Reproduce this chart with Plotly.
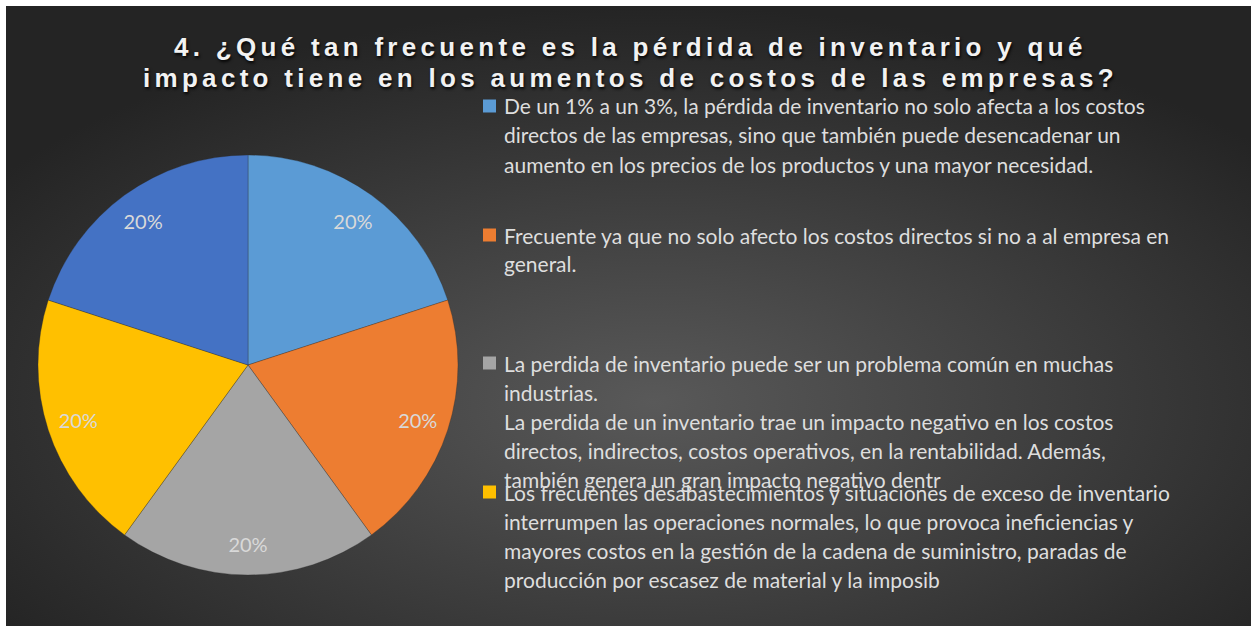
import base64
import plotly.graph_objects as go

# ---------------- data ----------------
title_lines = [
    "4. ¿Qué tan frecuente es la pérdida de inventario y qué",
    "impacto tiene en los aumentos de costos de las empresas?",
]
labels = [
    "De un 1% a un 3%, la pérdida de inventario no solo afecta a los costos<br>"
    "directos de las empresas, sino que también puede desencadenar un<br>"
    "aumento en los precios de los productos y una mayor necesidad.",
    "Frecuente ya que no solo afecto los costos directos si no a al empresa en<br>"
    "general.",
    "La perdida de inventario puede ser un problema común en muchas<br>"
    "industrias.<br>"
    "La perdida de un inventario trae un impacto negativo en los costos<br>"
    "directos, indirectos, costos operativos, en la rentabilidad. Además,<br>"
    "también genera un gran impacto negativo dentr",
    "Los frecuentes desabastecimientos y situaciones de exceso de inventario<br>"
    "interrumpen las operaciones normales, lo que provoca ineficiencias y<br>"
    "mayores costos en la gestión de la cadena de suministro, paradas de<br>"
    "producción por escasez de material y la imposib",
    "Otra respuesta",
]
values = [1, 1, 1, 1, 1]
colors = ["#5B9BD5", "#ED7D31", "#A5A5A5", "#FFC000", "#4472C4"]
legend_shown = 4  # only the first four legend entries are visible

# ---------------- layout helpers ----------------
W, H = 1251, 626


def px_x(x):
    return x / W


def px_y(y):
    return 1 - y / H


svg = f"""<svg xmlns='http://www.w3.org/2000/svg' width='{W-6}' height='{H-6}' preserveAspectRatio='none'>
<defs><radialGradient id='g' cx='52%' cy='64%' r='64%'>
<stop offset='0' stop-color='#595959'/><stop offset='1' stop-color='#242424'/>
</radialGradient></defs>
<rect width='100%' height='100%' fill='url(#g)'/></svg>"""
bg_src = "data:image/svg+xml;base64," + base64.b64encode(svg.encode()).decode()

cx, cy, r = 248, 365, 210
pie_domain = dict(x=[px_x(cx - r), px_x(cx + r)], y=[px_y(cy + r), px_y(cy - r)])

fig = go.Figure()
# filled pie (no text)
fig.add_trace(go.Pie(
    labels=labels, values=values, sort=False, direction="clockwise", rotation=0,
    marker=dict(colors=colors, line=dict(color="rgba(40,40,40,0.5)", width=0.6)),
    textinfo="none", hoverinfo="label+percent",
    domain=pie_domain, showlegend=False,
))
# transparent ring carrying the percentage labels near the rim
fig.add_trace(go.Pie(
    labels=labels, values=values, sort=False, direction="clockwise", rotation=0,
    hole=0.7,
    marker=dict(colors=["rgba(0,0,0,0)"] * len(values), line=dict(width=0)),
    texttemplate="%{percent:.0%}", textposition="inside",
    insidetextorientation="horizontal",
    textfont=dict(family="Lato", size=20, color="#d9d9d9"),
    hoverinfo="skip", domain=pie_domain, showlegend=False,
))

annotations = []
# title
title_y = [47, 78]
for line, ty in zip(title_lines, title_y):
    annotations.append(dict(
        text=f"<span style='letter-spacing:4.3px'>{line}</span>",
        x=px_x(630), y=px_y(ty), xref="paper", yref="paper",
        xanchor="center", yanchor="middle", showarrow=False,
        font=dict(family="Liberation Sans", size=26, color="#f2f2f2", weight="bold",
                  shadow="1px 2px 3px rgba(0,0,0,0.9)"),
    ))

# legend (custom, overlapping like the reference)
entry_top = [106, 235, 363, 492]
line_gap = 29
shapes = []
for i in range(legend_shown):
    for j, line in enumerate(labels[i].split("<br>")):
        annotations.append(dict(
            text=line, x=px_x(502), y=px_y(entry_top[i] + j * line_gap),
            xref="paper", yref="paper", xanchor="left", yanchor="middle",
            showarrow=False,
            font=dict(family="Lato", size=21, color="#dedede"),
        ))
    sy = entry_top[i]
    shapes.append(dict(
        type="rect", xref="paper", yref="paper",
        x0=px_x(483), x1=px_x(496), y0=px_y(sy + 6.5), y1=px_y(sy - 6.5),
        fillcolor=colors[i], line=dict(width=0),
    ))

fig.update_layout(
    width=W, height=H,
    margin=dict(l=0, r=0, t=0, b=0),
    paper_bgcolor="white",
    plot_bgcolor="rgba(0,0,0,0)",
    images=[dict(source=bg_src, xref="paper", yref="paper",
                 x=px_x(6), y=px_y(6), sizex=1 - px_x(6), sizey=1 - 6 / H,
                 xanchor="left", yanchor="top", sizing="stretch", layer="below")],
    annotations=annotations,
    shapes=shapes,
)

fig.write_html("out.html", config={"displayModeBar": False},
               post_script="document.body.style.margin='0px';")
